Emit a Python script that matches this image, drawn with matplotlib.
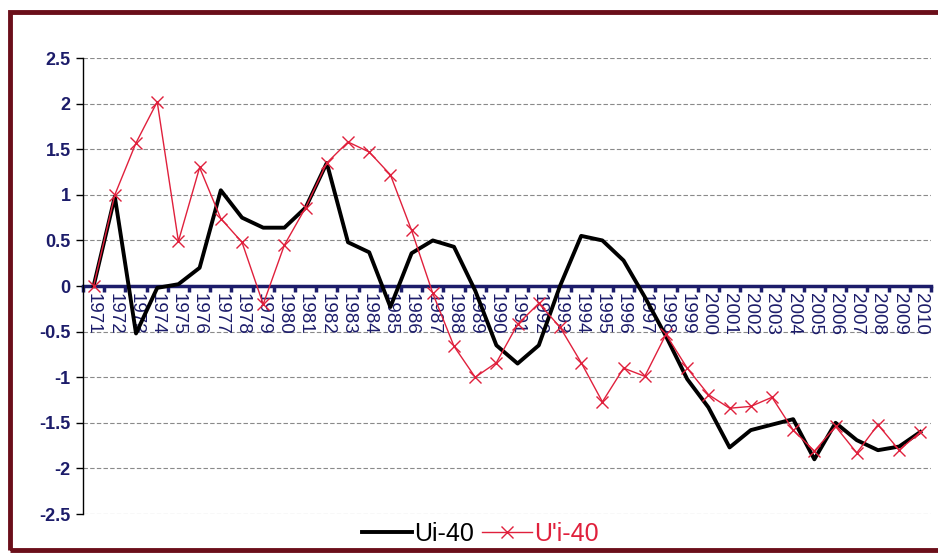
import numpy as np
import matplotlib
matplotlib.use('Agg')
from matplotlib import pyplot as plt
from matplotlib.patches import Rectangle

plt.rcParams['font.family'] = ['Liberation Sans', 'DejaVu Sans']

# data
years = [str(y) for y in range(1971, 2011)]
ui40 = [0, 0.98, -0.52, -0.02, 0.02, 0.2, 1.05, 0.75, 0.64, 0.64,
        0.86, 1.35, 0.48, 0.37, -0.23, 0.36, 0.5, 0.43, -0.05, -0.65,
        -0.85, -0.65, 0.0, 0.55, 0.5, 0.28, -0.12, -0.55, -1.02, -1.33,
        -1.77, -1.58, -1.52, -1.46, -1.9, -1.5, -1.69, -1.8, -1.76, -1.6]
uprime40 = [0, 1.0, 1.57, 2.02, 0.49, 1.3, 0.74, 0.48, -0.2, 0.45,
            0.86, 1.35, 1.58, 1.47, 1.22, 0.61, -0.08, -0.66, -1.0, -0.84,
            -0.42, -0.19, -0.45, -0.84, -1.27, -0.9, -0.99, -0.53, -0.9, -1.19,
            -1.34, -1.32, -1.22, -1.58, -1.81, -1.54, -1.83, -1.52, -1.8, -1.6]
yticks = [-2.5, -2, -1.5, -1, -0.5, 0, 0.5, 1, 1.5, 2, 2.5]
ytick_labels = ['-2.5', '-2', '-1.5', '-1', '-0.5', '0', '0.5', '1', '1.5', '2', '2.5']

navy = '#1c1c6a'
red = '#e0203c'

fig = plt.figure(figsize=(9.38, 5.53), dpi=100)
ax = fig.add_axes([0.0885, 0.0705, 0.904, 0.8245])

x = np.arange(len(years))

# gridlines
for v in yticks:
    if v != 0:
        ax.axhline(v, color='#8a8a8a', lw=0.8, ls=(0, (4, 2)), zorder=1)

ax.plot(x, ui40, color='black', lw=2.8, label='Ui-40', zorder=3,
        solid_joinstyle='round')
ax.plot(x, uprime40, color=red, lw=1.0, marker='x', ms=8, mew=1.0,
        label="U'i-40", zorder=4)

ax.set_xlim(-0.5, len(years) - 0.5)
ax.set_ylim(-2.5, 2.5)

ax.set_yticks(yticks)
ax.set_yticklabels(ytick_labels, fontsize=13, fontweight='bold', color=navy)
ax.tick_params(axis='y', length=5, width=1, color='black', pad=4)

# x axis sits at zero
ax.spines['bottom'].set_position(('data', 0))
ax.spines['bottom'].set_color(navy)
ax.spines['bottom'].set_linewidth(2.5)
ax.spines['bottom'].set_zorder(2)
ax.spines['top'].set_visible(False)
ax.spines['right'].set_visible(False)
ax.spines['left'].set_linewidth(1.0)

ax.set_xticks(x)
ax.set_xticklabels(years, rotation=-90, fontsize=13.5, color=navy,
                   va='top', ha='center')
ax.set_xticks(np.arange(len(years) + 1) - 0.5, minor=True)
ax.tick_params(axis='x', which='major', length=0, pad=5)
ax.tick_params(axis='x', which='minor', length=4, width=2.5, color=navy,
               direction='out')

leg = fig.legend(loc='lower center', bbox_to_anchor=(0.512, -0.028), ncol=2,
                 frameon=False, fontsize=18, handlelength=2.0,
                 columnspacing=0.3, handletextpad=0.1)
for txt, col in zip(leg.get_texts(), ['black', red]):
    txt.set_color(col)

# maroon frame around the chart
fig.patches.append(Rectangle((0.011, 0.006), 0.995, 0.972,
                             transform=fig.transFigure, fill=False,
                             edgecolor='#6b0f1a', lw=3.5))

plt.savefig('out.png', dpi=100)
